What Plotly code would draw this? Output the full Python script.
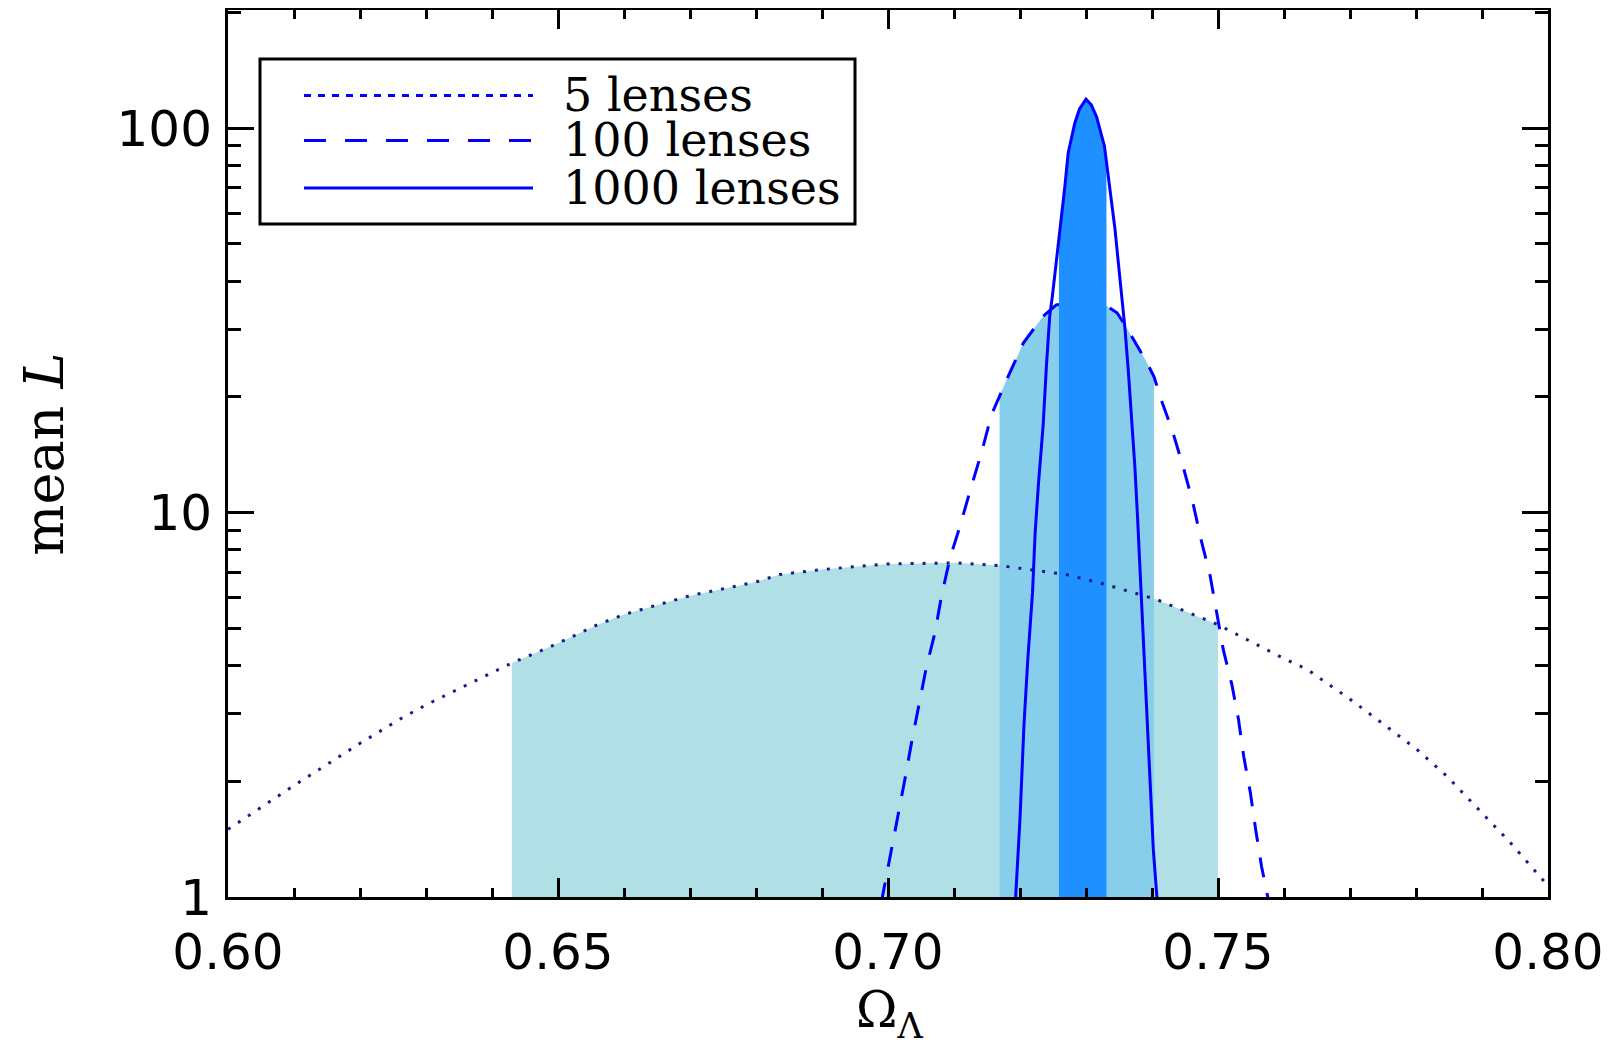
import plotly.graph_objects as go

# ---------------- data ----------------
series_names = ["5 lenses", "100 lenses", "1000 lenses"]

# mean likelihood, 5 lenses (dotted)
x_5 = [0.600, 0.610, 0.620, 0.626, 0.630, 0.643, 0.650, 0.656, 0.660, 0.670,
       0.680, 0.6836, 0.690, 0.700, 0.710, 0.717, 0.720, 0.727, 0.733, 0.7407,
       0.750, 0.760, 0.7635, 0.770, 0.7735, 0.780, 0.7847, 0.790, 0.7942, 0.800]
y_5 = [1.50, 1.95, 2.51, 2.90, 3.16, 4.06, 4.57, 5.11, 5.43, 6.08,
       6.60, 6.90, 7.11, 7.35, 7.40, 7.28, 7.16, 6.90, 6.50, 5.94,
       5.11, 4.17, 3.91, 3.27, 2.95, 2.43, 2.06, 1.66, 1.39, 1.07]

# mean likelihood, 100 lenses (dashed)
x_100 = [0.6990, 0.7005, 0.7016, 0.7026, 0.7036, 0.7047, 0.7058, 0.7071, 0.7081,
         0.7094, 0.7109, 0.7127, 0.7142, 0.7157, 0.7169, 0.7180, 0.7205, 0.7235,
         0.7255, 0.7290, 0.7332, 0.7347, 0.7361, 0.7391, 0.7403, 0.7412, 0.7431,
         0.7447, 0.7462, 0.7474, 0.7488, 0.7498, 0.7508, 0.7521, 0.7531, 0.7539,
         0.7549, 0.7557, 0.7566, 0.7577]
y_100 = [0.97, 1.32, 1.64, 2.04, 2.54, 3.15, 3.95, 4.86, 6.06,
         7.62, 9.21, 11.8, 14.4, 18.0, 20.1, 22.2, 27.6, 32.4,
         34.7, 35.5, 34.4, 33.1, 30.4, 24.8, 22.6, 20.1, 16.3,
         13.2, 10.6, 8.55, 6.86, 5.48, 4.40, 3.57, 2.90, 2.32,
         1.87, 1.50, 1.20, 0.97]

# mean likelihood, 1000 lenses (solid)
x_1000 = [0.7193, 0.7200, 0.7206, 0.7212, 0.7219, 0.7223, 0.7228, 0.7235, 0.7240,
          0.7245, 0.7249, 0.7255, 0.7259, 0.7268, 0.7273, 0.7283, 0.7290, 0.7300,
          0.7308, 0.7316, 0.7328, 0.7331, 0.7335, 0.7344, 0.7349, 0.7354, 0.7359,
          0.7364, 0.7369, 0.7374, 0.7378, 0.7383, 0.7387, 0.7392, 0.7397, 0.7402,
          0.7408]
y_1000 = [0.97, 1.6, 2.8, 4.2, 6.2, 8.9, 11.9, 16.8, 24.0,
          32.4, 36.5, 44.6, 52.0, 70.6, 86.2, 103.0, 112.0, 119.0,
          115.0, 107.0, 89.7, 82.0, 73.5, 54.5, 44.6, 36.5, 30.2,
          23.5, 17.8, 13.2, 9.8, 6.56, 4.4, 2.95, 1.98, 1.33,
          0.97]

# shaded intervals (lower, upper) in Omega_Lambda
band_5 = (0.643, 0.750)
band_100 = (0.7169, 0.7403)
band_1000 = (0.7259, 0.7331)

x_tickvals = [0.60, 0.65, 0.70, 0.75, 0.80]
y_tickvals = [1, 10, 100]
y_ticktext = ["1", "10", "100"]
y_minor = [2, 3, 4, 5, 6, 7, 8, 9, 20, 30, 40, 50, 60, 70, 80, 90, 200]
Y_BASE = 1.0

# ---------------- styling ----------------
OFF = 8                      # page body margin of the html page
W, H = 1614 - OFF, 1054 - OFF
# plot area in page pixels: x 228.5..1548, y 10.3..897.5
ML = 228 - OFF
MT = 10 - OFF
MR = W - (1548 - OFF)
MB = H - (897.5 - OFF)
PW, PH = W - ML - MR, H - MT - MB

C_LIGHT = "#B0E0E6"
C_MED = "#87CEEB"
C_DARK = "#1E90FF"
C_LINE = "#0000FF"
C_DOT = "#1c1c84"


def band(xs, ys, lo, hi):
    pts = [(x, y) for x, y in zip(xs, ys) if lo - 1e-9 <= x <= hi + 1e-9]
    bx = [pts[0][0]] + [p[0] for p in pts] + [pts[-1][0]]
    by = [Y_BASE] + [p[1] for p in pts] + [Y_BASE]
    return bx, by


def fill_trace(xs, ys, rng, color):
    bx, by = band(xs, ys, *rng)
    return go.Scatter(x=bx, y=by, mode="lines", fill="toself", fillcolor=color,
                      line=dict(width=0, color=color), hoverinfo="skip",
                      showlegend=False)


fig = go.Figure()
fig.add_trace(fill_trace(x_5, y_5, band_5, C_LIGHT))
fig.add_trace(fill_trace(x_100, y_100, band_100, C_MED))
fig.add_trace(go.Scatter(x=x_100, y=y_100, mode="lines", name=series_names[1],
                         line=dict(color=C_LINE, width=3, dash="20px,16px"),
                         showlegend=False))
fig.add_trace(fill_trace(x_1000, y_1000, band_1000, C_DARK))
fig.add_trace(go.Scatter(x=x_5, y=y_5, mode="lines", name=series_names[0],
                         line=dict(color=C_DOT, width=3, dash="3px,9px"),
                         showlegend=False))
fig.add_trace(go.Scatter(x=x_1000, y=y_1000, mode="lines", name=series_names[2],
                         line=dict(color=C_LINE, width=3), showlegend=False))

tick_font = dict(family="DejaVu Sans", size=50, color="black")

fig.update_xaxes(
    range=[0.60, 0.80], tickvals=x_tickvals, tickformat=".2f",
    ticks="inside", ticklen=19, tickwidth=3, tickcolor="black",
    minor=dict(dtick=0.01, tick0=0.6, ticks="inside", ticklen=9, tickwidth=3,
               tickcolor="black"),
    showline=True, linewidth=3, linecolor="black", mirror="ticks",
    showgrid=False, zeroline=False, tickfont=tick_font, ticklabelstandoff=9,
)
fig.update_yaxes(
    type="log", range=[0, 2.3074], tickvals=y_tickvals, ticktext=y_ticktext,
    ticks="inside", ticklen=26, tickwidth=3, tickcolor="black",
    minor=dict(tickvals=y_minor, ticks="inside", ticklen=13, tickwidth=3,
               tickcolor="black"),
    showline=True, linewidth=3, linecolor="black", mirror="ticks",
    showgrid=False, zeroline=False, tickfont=tick_font, ticklabelstandoff=3,
)


def px_x(p):
    # page pixel -> paper coordinate
    return (p - OFF - ML) / PW


def px_y(p):
    return (MT + PH - (p - OFF)) / PH


shapes = []
annotations = []
# legend box
shapes.append(dict(type="rect", xref="paper", yref="paper",
                   x0=px_x(260), x1=px_x(855), y0=px_y(224), y1=px_y(59),
                   line=dict(color="black", width=3), fillcolor="white"))
legend_rows = [95.5, 140.5, 188]
legend_dash = ["7px,7px", "22px,19px", "solid"]
for name, row, dash in zip(series_names, legend_rows, legend_dash):
    shapes.append(dict(type="line", xref="paper", yref="paper",
                       x0=px_x(304), x1=px_x(533), y0=px_y(row), y1=px_y(row),
                       line=dict(color=C_LINE, width=3, dash=dash)))
    annotations.append(dict(text=name, xref="paper", yref="paper",
                            x=px_x(561), y=px_y(row), xanchor="left",
                            yanchor="middle", showarrow=False,
                            font=dict(family="DejaVu Serif", size=46,
                                      color="black")))

# axis titles
annotations.append(dict(text="Ω<sub>Λ</sub>", xref="paper", yref="paper",
                        x=px_x(890), y=px_y(980), xanchor="center",
                        yanchor="top", showarrow=False,
                        font=dict(family="DejaVu Serif", size=50, color="black")))
annotations.append(dict(text="mean <i>L</i>", xref="paper", yref="paper",
                        x=px_x(45), y=px_y(455), xanchor="center",
                        yanchor="middle", textangle=-90, showarrow=False,
                        font=dict(family="DejaVu Serif", size=54, color="black")))

fig.update_layout(
    width=W, height=H,
    margin=dict(l=ML, r=MR, t=MT, b=MB, autoexpand=False),
    paper_bgcolor="white", plot_bgcolor="white",
    shapes=shapes, annotations=annotations, showlegend=False,
)

fig.write_html("out.html")
